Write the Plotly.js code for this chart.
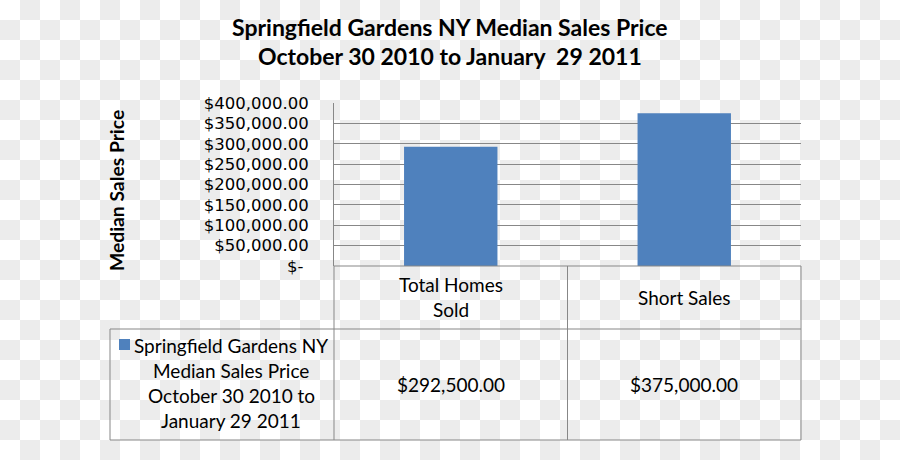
<!DOCTYPE html>
<html>
<head>
<meta charset="utf-8">
<script src="https://cdn.plot.ly/plotly-3.0.1.min.js"></script>
<style>
  html, body { margin:0; padding:0; }
  body {
    width:900px; height:460px; overflow:hidden;
    background: repeating-conic-gradient(#ececec 0 25%, #ffffff 0 50%) 0 0 / 40px 40px;
  }
  #chart { width:900px; height:460px; }
</style>
</head>
<body>
<div id="chart"></div>
<script>
// ---- data ----
var categories = ['Total Homes Sold', 'Short Sales'];
var categoryLabelLines = [['Total Homes', 'Sold'], ['Short Sales']];
var values = [292500, 375000];
var seriesName = 'Springfield Gardens NY Median Sales Price October 30 2010 to January 29 2011';
var seriesLabelLines = ['Springfield Gardens NY', 'Median Sales Price', 'October 30 2010 to', 'January 29 2011'];
var yTickValues = [0, 50000, 100000, 150000, 200000, 250000, 300000, 350000, 400000];
var chartTitleLines = ['Springfield Gardens NY Median Sales Price', 'October 30 2010 to January\u00a0\u00a029 2011'];
var yAxisTitle = 'Median Sales Price';

// ---- helpers ----
function money(v) {
  if (v === 0) return '$-\u00a0';
  return '$' + v.toLocaleString('en-US', {minimumFractionDigits: 2, maximumFractionDigits: 2});
}
var W = 900, H = 460;
var M = {l: 334, r: 99, t: 103, b: 194};
var PW = W - M.l - M.r, PH = H - M.t - M.b;
function px2x(px) { return (px - M.l) / PW; }
function py2y(py) { return (M.t + PH - py) / PH; }

var FONT = 'Lato, Carlito, "Open Sans", sans-serif';
var TICKFONT = '"DejaVu Sans", Lato, sans-serif';
var LINE = '#878787';
var BLUE = '#4f81bd';
var LH = 25;

var annotations = [];
function addLines(lines, x, xref, centerPy, size, bold) {
  var n = lines.length;
  lines.forEach(function (t, k) {
    var py = centerPy + (k - (n - 1) / 2) * LH;
    annotations.push({
      text: bold ? '<b>' + t + '</b>' : t,
      x: x, xref: xref, y: py2y(py), yref: 'paper',
      xanchor: 'center', yanchor: 'middle', showarrow: false,
      font: {family: FONT, size: size, color: '#000'}
    });
  });
}

// category header row and value row
categories.forEach(function (c, i) {
  addLines(categoryLabelLines[i], c, 'x', 297, 19, false);
  addLines([money(values[i])], c, 'x', 384, 19, false);
});
// series name cell
addLines(seriesLabelLines, px2x(231), 'paper', 382.5, 19, false);
// title
chartTitleLines.forEach(function (t, k) {
  annotations.push({
    text: '<b>' + t + '</b>', x: px2x(449.5), xref: 'paper', y: py2y(27 + k * 29), yref: 'paper',
    xanchor: 'center', yanchor: 'middle', showarrow: false,
    font: {family: FONT, size: 23, color: '#000'}
  });
});
// y axis title
annotations.push({
  text: '<b>' + yAxisTitle + '</b>', textangle: -90,
  x: px2x(116), xref: 'paper', y: py2y(191), yref: 'paper',
  xanchor: 'center', yanchor: 'middle', showarrow: false,
  font: {family: FONT, size: 19.3, color: '#000'}
});

function line(x0, y0, x1, y1) {
  return {type: 'line', xref: 'paper', yref: 'paper', x0: x0, y0: y0, x1: x1, y1: y1,
          line: {color: LINE, width: 1}, layer: 'above'};
}
var xL = px2x(110), yB = py2y(440), yM = py2y(329);
var shapes = [
  line(0, 0, 0, yB),
  line(0.5, 0, 0.5, yB),
  line(1, 0, 1, yB),
  line(0, 0, 1, 0),
  line(xL, yM, 1, yM),
  line(xL, yB, 1, yB),
  line(xL, yM, xL, yB),
  {type: 'rect', xref: 'paper', yref: 'paper', x0: px2x(119), x1: px2x(130), y0: py2y(350), y1: py2y(339),
   fillcolor: BLUE, line: {width: 0}}
];

var trace = {
  type: 'bar', x: categories, y: values, name: seriesName,
  marker: {color: BLUE}, hoverinfo: 'none'
};

var layout = {
  width: W, height: H, margin: M,
  paper_bgcolor: 'rgba(0,0,0,0)', plot_bgcolor: 'rgba(0,0,0,0)',
  showlegend: false, bargap: 0.6,
  xaxis: {showticklabels: false, showgrid: false, zeroline: false, showline: false, ticks: '', fixedrange: true},
  yaxis: {
    range: [0, 400000], tickmode: 'array', tickvals: yTickValues, ticktext: yTickValues.map(money),
    showgrid: true, gridcolor: LINE, gridwidth: 1, zeroline: false,
    showline: true, linecolor: LINE, linewidth: 1, ticks: '', ticklabelstandoff: 21,
    tickfont: {family: TICKFONT, size: 16.5, color: '#000'}, fixedrange: true
  },
  annotations: annotations, shapes: shapes
};

Plotly.newPlot('chart', [trace], layout, {staticPlot: true, displayModeBar: false});
</script>
</body>
</html>
